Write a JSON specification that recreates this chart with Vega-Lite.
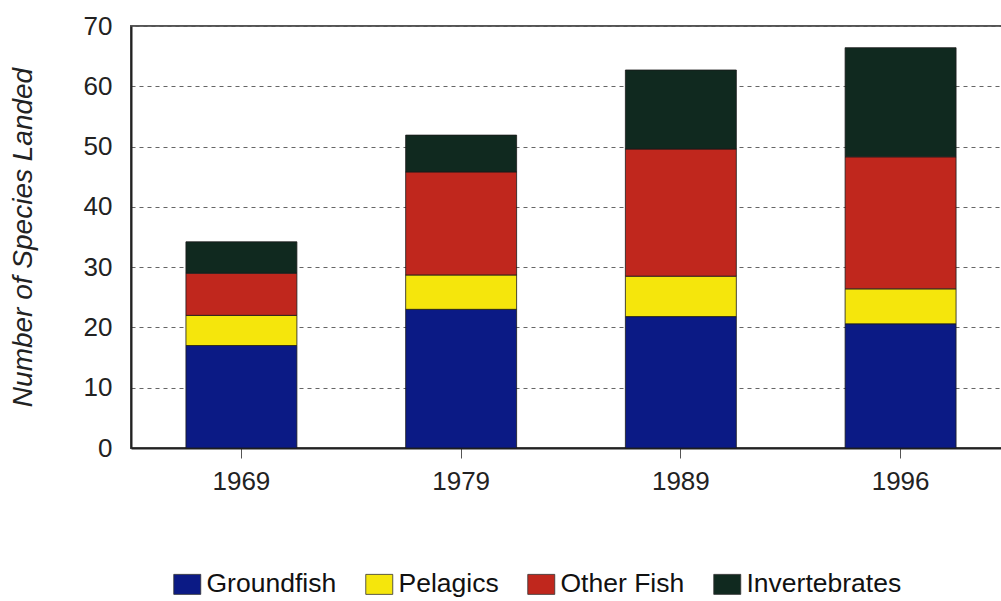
{
  "$schema": "https://vega.github.io/schema/vega-lite/v6.json",
  "autosize": "none",
  "width": 880,
  "height": 422,
  "padding": {"left": 131, "top": 26, "right": 0, "bottom": 153},
  "background": "white",
  "config": {
    "font": "Liberation Sans",
    "view": {"stroke": "#555", "strokeWidth": 2}
  },
  "data": {
    "values": [
      {"year": "1969", "group": "Groundfish", "o": 1, "n": 17},
      {"year": "1969", "group": "Pelagics", "o": 2, "n": 5},
      {"year": "1969", "group": "Other Fish", "o": 3, "n": 7},
      {"year": "1969", "group": "Invertebrates", "o": 4, "n": 5.2},
      {"year": "1979", "group": "Groundfish", "o": 1, "n": 23},
      {"year": "1979", "group": "Pelagics", "o": 2, "n": 5.7},
      {"year": "1979", "group": "Other Fish", "o": 3, "n": 17.1},
      {"year": "1979", "group": "Invertebrates", "o": 4, "n": 6.1},
      {"year": "1989", "group": "Groundfish", "o": 1, "n": 21.8},
      {"year": "1989", "group": "Pelagics", "o": 2, "n": 6.7},
      {"year": "1989", "group": "Other Fish", "o": 3, "n": 21.1},
      {"year": "1989", "group": "Invertebrates", "o": 4, "n": 13.1},
      {"year": "1996", "group": "Groundfish", "o": 1, "n": 20.6},
      {"year": "1996", "group": "Pelagics", "o": 2, "n": 5.8},
      {"year": "1996", "group": "Other Fish", "o": 3, "n": 21.9},
      {"year": "1996", "group": "Invertebrates", "o": 4, "n": 18.1}
    ]
  },
  "mark": {"type": "bar", "stroke": "#1a1a1a", "strokeWidth": 0.8},
  "encoding": {
    "x": {
      "field": "year", "type": "nominal", "title": null,
      "scale": {"paddingInner": 0.495, "paddingOuter": 0.25},
      "axis": {
        "labelAngle": 0, "labelFontSize": 26, "labelColor": "#222",
        "labelPadding": 10, "tickSize": 10, "tickColor": "#555",
        "domainColor": "#222", "domainWidth": 2, "grid": false
      }
    },
    "y": {
      "field": "n", "type": "quantitative", "aggregate": "sum",
      "title": "Number of Species Landed",
      "scale": {"domain": [0, 70], "nice": false},
      "axis": {
        "values": [0, 10, 20, 30, 40, 50, 60, 70],
        "labelFontSize": 26, "labelColor": "#222", "labelPadding": 19,
        "tickSize": 0, "domainColor": "#222", "domainWidth": 2,
        "gridDash": [4, 4], "gridColor": "#666", "gridWidth": 1.2,
        "titleFontSize": 28, "titleFontStyle": "italic", "titleFontWeight": "normal",
        "titleColor": "#222", "titlePadding": 46
      }
    },
    "color": {
      "field": "group", "type": "nominal",
      "scale": {
        "domain": ["Groundfish", "Pelagics", "Other Fish", "Invertebrates"],
        "range": ["#0b1a85", "#f5e60c", "#c0271d", "#10291f"]
      },
      "legend": {
        "title": null, "orient": "none", "direction": "horizontal",
        "legendX": 43, "legendY": 545, "padding": 0,
        "symbolType": "M-1.35,-1H1.35V1H-1.35Z", "symbolSize": 400,
        "symbolStrokeColor": "#333", "symbolStrokeWidth": 0.8,
        "labelFontSize": 26.5, "labelColor": "#111", "labelOffset": 6,
        "columnPadding": 27
      }
    },
    "order": {"field": "o", "type": "quantitative"}
  }
}
